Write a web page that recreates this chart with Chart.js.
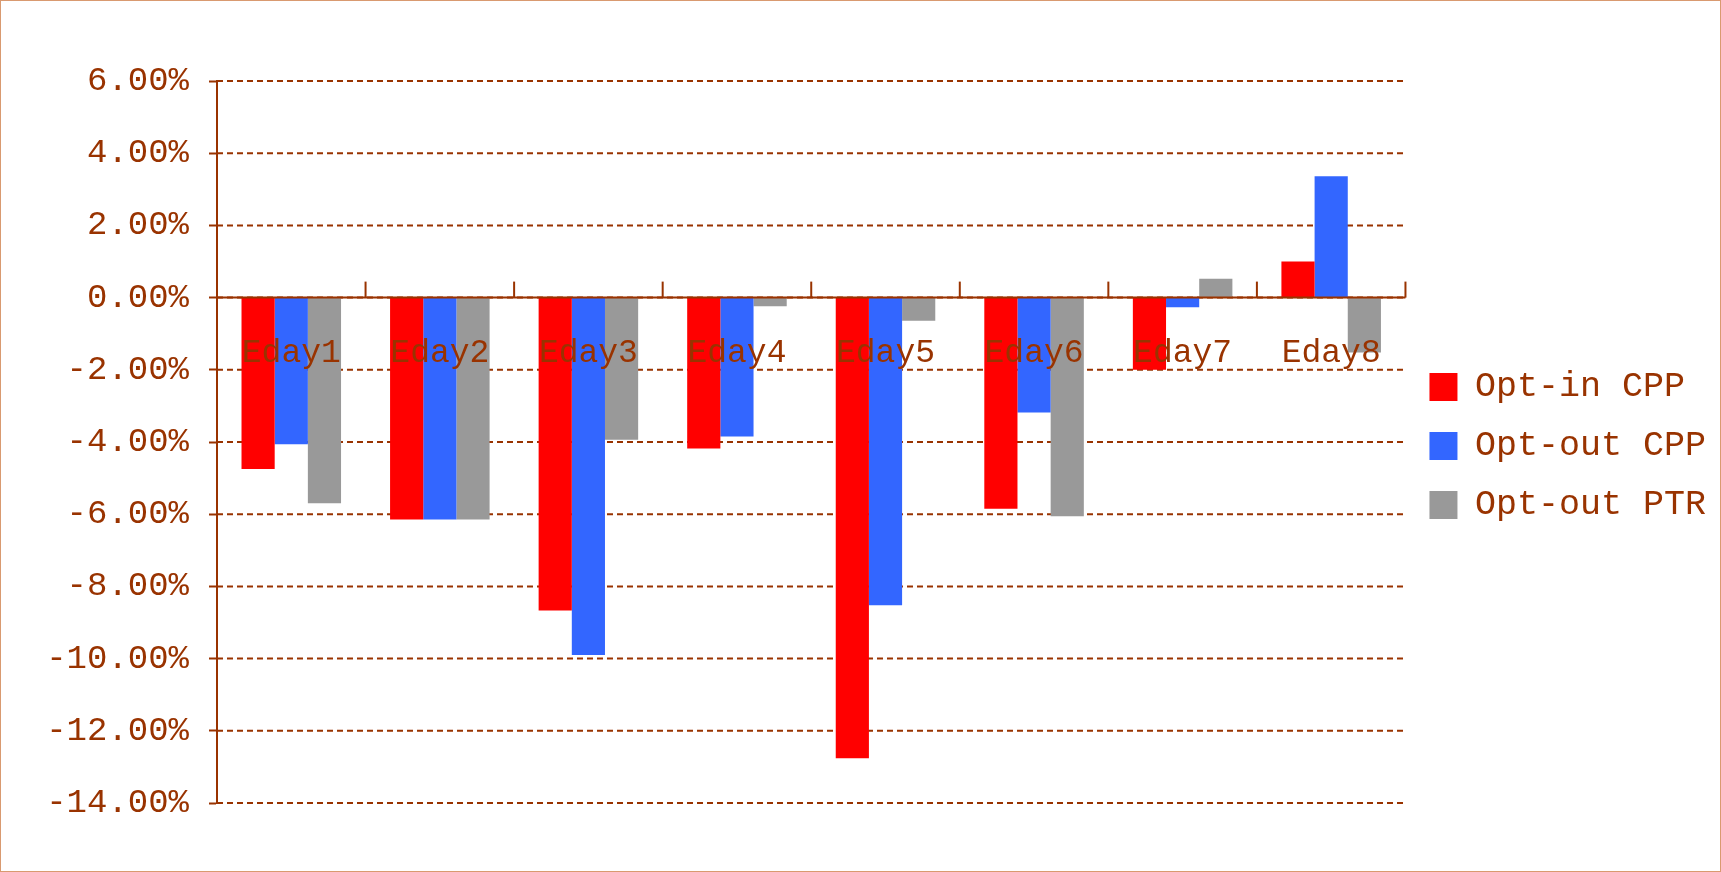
<!DOCTYPE html>
<html><head><meta charset="utf-8">
<script src="https://cdn.jsdelivr.net/npm/chart.js@4"></script>
<style>html,body{margin:0;padding:0;background:#fff}
#wrap{position:absolute;left:0;top:0;width:1719px;height:870px;border:1px solid #d99a70}
</style></head><body>
<div id="wrap"><canvas id="c" width="1719" height="870"></canvas></div>
<script>
const categories=["Eday1","Eday2","Eday3","Eday4","Eday5","Eday6","Eday7","Eday8"];
const optInCPP=[-4.75,-6.15,-8.67,-4.18,-12.76,-5.85,-2.0,1.0];
const optOutCPP=[-4.06,-6.15,-9.9,-3.85,-8.52,-3.18,-0.27,3.36];
const optOutPTR=[-5.7,-6.15,-3.94,-0.24,-0.64,-6.06,0.52,-1.52];
const brown="#993300";
const F="'Liberation Mono',monospace";
Chart.defaults.font.family=F;
const overlay={id:'overlay',
 beforeDatasetsDraw(ch){
 const y=ch.scales.y,ctx=ch.ctx;
 ctx.save();ctx.strokeStyle=brown;ctx.lineWidth=2;ctx.setLineDash([6,4]);
 y.ticks.forEach(t=>{const py=y.getPixelForValue(t.value);ctx.beginPath();ctx.moveTo(y.right,py);ctx.lineTo(ch.chartArea.right,py);ctx.stroke();});
 ctx.restore();},
 afterDatasetsDraw(ch){
 const x=ch.scales.x,y=ch.scales.y,ctx=ch.ctx,y0=y.getPixelForValue(0);
 ctx.save();ctx.strokeStyle=brown;ctx.lineWidth=2;
 const n=categories.length,w=(x.right-x.left)/n;
 ctx.beginPath();ctx.moveTo(x.left,y0);ctx.lineTo(x.right,y0);ctx.stroke();
 for(let i=1;i<=n;i++){const px=x.left+i*w;ctx.beginPath();ctx.moveTo(px,y0);ctx.lineTo(px,y0-16);ctx.stroke();}
 ctx.fillStyle=brown;ctx.font="33px "+F;ctx.textAlign='center';ctx.textBaseline='middle';
 categories.forEach((c,i)=>ctx.fillText(c,x.getPixelForTick(i),y0+56));
 ctx.restore();}};
new Chart(document.getElementById('c'),{type:'bar',
data:{labels:categories,datasets:[
{label:'Opt-in CPP',data:optInCPP,backgroundColor:'#ff0000'},
{label:'Opt-out CPP',data:optOutCPP,backgroundColor:'#3366ff'},
{label:'Opt-out PTR',data:optOutPTR,backgroundColor:'#999999'}]},
options:{responsive:false,animation:false,
layout:{padding:{top:80,bottom:60,right:4}},
datasets:{bar:{categoryPercentage:0.67,barPercentage:1}},
plugins:{tooltip:{enabled:false},legend:{position:'right',labels:{boxWidth:28,boxHeight:28,padding:24,color:brown,font:{size:35,family:F}}}},
scales:{
x:{grid:{display:false},border:{display:false},ticks:{display:false}},
y:{min:-14,max:6,afterFit:s=>{s.width=216},
 ticks:{stepSize:2,color:brown,font:{size:34},padding:20,callback:v=>v.toFixed(2)+'%'},
 grid:{drawOnChartArea:false,drawTicks:true,tickLength:8,tickColor:brown,tickWidth:2},border:{color:brown,width:2}
}}},plugins:[overlay]});
</script></body></html>
